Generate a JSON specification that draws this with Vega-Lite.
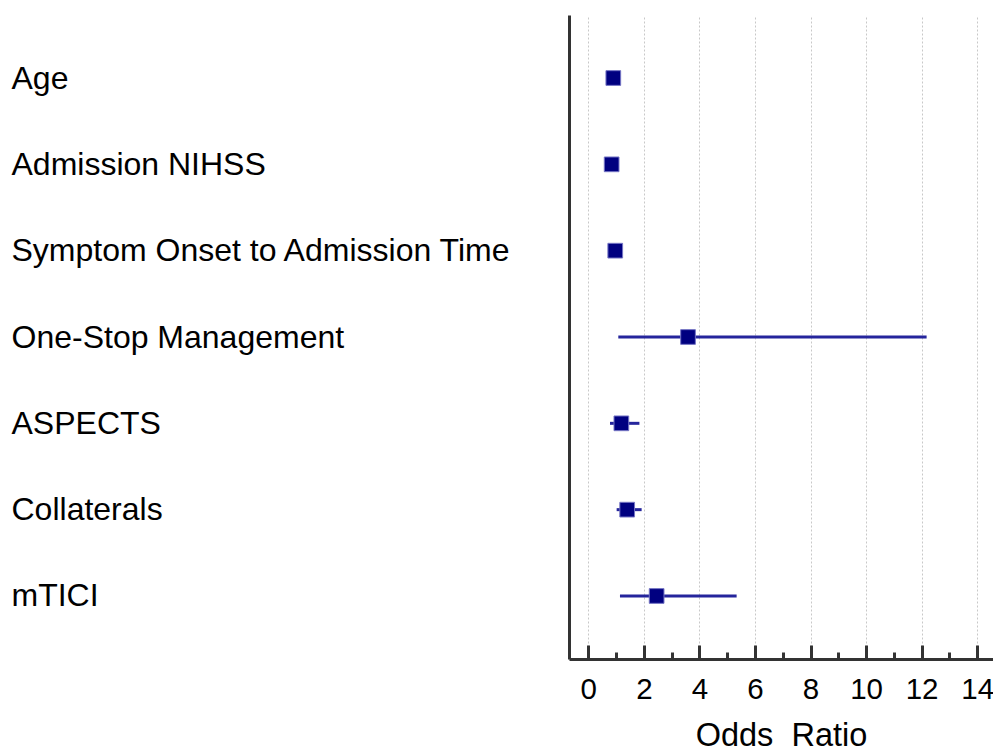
{
  "$schema": "https://vega.github.io/schema/vega-lite/v6.json",
  "autosize": "none",
  "width": 424,
  "height": 644,
  "padding": {"left": 569, "top": 15, "right": 0, "bottom": 92},
  "background": "white",
  "config": {
    "view": {"stroke": null},
    "font": "Liberation Sans",
    "axis": {"labelFont": "Liberation Sans", "titleFont": "Liberation Sans", "labelColor": "black", "titleColor": "black"}
  },
  "data": {
    "values": [
      {"variable": "Age", "or": 0.90, "lo": 0.87, "hi": 0.93},
      {"variable": "Admission NIHSS", "or": 0.84, "lo": 0.79, "hi": 0.89},
      {"variable": "Symptom Onset to Admission Time", "or": 0.97, "lo": 0.95, "hi": 0.99},
      {"variable": "One-Stop Management", "or": 3.59, "lo": 1.08, "hi": 12.18},
      {"variable": "ASPECTS", "or": 1.19, "lo": 0.78, "hi": 1.84},
      {"variable": "Collaterals", "or": 1.40, "lo": 1.02, "hi": 1.92},
      {"variable": "mTICI", "or": 2.46, "lo": 1.14, "hi": 5.34}
    ]
  },
  "resolve": {"axis": {"x": "independent"}},
  "layer": [
    {
      "mark": {"type": "rule", "color": "#25259c", "strokeWidth": 3},
      "encoding": {
        "y": {
          "field": "variable", "type": "ordinal", "sort": null,
          "scale": {"type": "point", "padding": 0.73},
          "axis": {
            "title": null, "ticks": false, "labelAlign": "left", "labelPadding": 558,
            "labelLimit": 600, "labelFontSize": 32, "domainColor": "#333333", "domainWidth": 3, "grid": false
          }
        },
        "x": {
          "field": "lo", "type": "quantitative",
          "scale": {"domain": [-0.695, 14.57], "nice": false, "zero": false},
          "axis": {
            "values": [0, 2, 4, 6, 8, 10, 12, 14], "title": "Odds_Ratio", "titleFontSize": 32.5,
            "titleFontWeight": "normal", "titlePadding": 16, "labelFontSize": 29.5, "labelPadding": 30,
            "tickSize": -14, "tickWidth": 3, "tickColor": "#333333", "domainColor": "#333333", "domainWidth": 3,
            "grid": true, "gridColor": "#c8c8c8", "gridDash": [2, 2], "gridWidth": 1, "labelFlush": false
          }
        },
        "x2": {"field": "hi"}
      }
    },
    {
      "mark": {"type": "square", "size": 216, "color": "#000080", "opacity": 1, "filled": true, "stroke": "#7474c4", "strokeWidth": 1},
      "encoding": {
        "y": {"field": "variable", "type": "ordinal", "sort": null},
        "x": {
          "field": "or", "type": "quantitative",
          "axis": {
            "values": [1, 3, 5, 7, 9, 11, 13], "title": null, "labels": false, "domain": false, "grid": false,
            "tickSize": -7, "tickWidth": 3, "tickColor": "#333333", "orient": "bottom"
          }
        }
      }
    }
  ]
}
